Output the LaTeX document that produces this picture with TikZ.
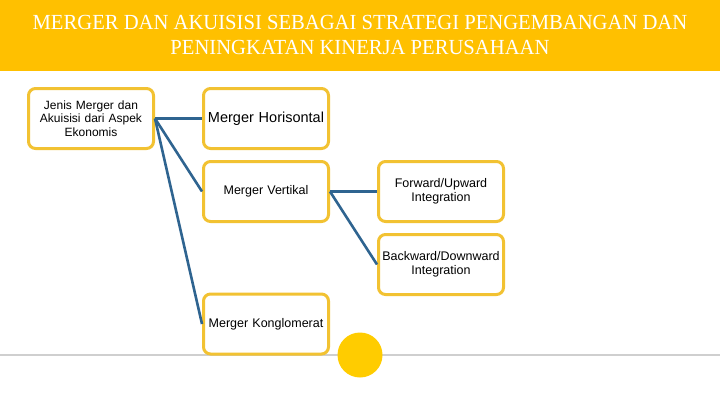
\documentclass[tikz,border=0pt]{standalone}
\usepackage{fontspec}
\setmainfont{Liberation Sans}
\newfontfamily\titlefont[FakeStretch=0.96]{Liberation Serif}
\usepackage{xcolor}
\definecolor{BandGold}{HTML}{FFC000}
\definecolor{BoxGold}{HTML}{F2C232}
\definecolor{LinkBlue}{HTML}{2F6490}
\definecolor{DotGold}{HTML}{FFCC00}
\definecolor{RuleGrey}{HTML}{CFCFCF}
\usepackage{tikz}
\usetikzlibrary{positioning}
\tikzset{
  mbox/.style={draw=BoxGold,line width=3pt,fill=white,rounded corners=7pt,align=center,inner sep=3pt,font=\fontsize{12.5}{13.5}\selectfont,minimum width=125pt,minimum height=60pt,text width=119pt},
  mlink/.style={draw=LinkBlue,line width=2.6pt}
}
\begin{document}
\begin{tikzpicture}[x=1pt,y=-1pt,node distance=10pt and 47pt]
  \useasboundingbox (0,0) rectangle (720,405);
  % header band
  \fill[BandGold] (0,0) rectangle (720,71);
  \node[text=white,font=\titlefont\fontsize{21.5}{25}\selectfont,align=center] (title) at (360,35)
    {MERGER DAN AKUISISI SEBAGAI STRATEGI PENGEMBANGAN DAN\\PENINGKATAN KINERJA PERUSAHAAN};
  % bottom rule and dot
  \draw[RuleGrey,line width=1.2pt] (0,355) -- (720,355);
  \fill[DotGold] (360,355) circle (22.5);

  \node[mbox,font=\fontsize{12}{13.5}\selectfont] (root) at (91,118.5) {Jenis Merger dan\\Akuisisi dari Aspek\\Ekonomis};
  \node[mbox,right=of root,font=\fontsize{14.5}{16}\selectfont] (horis) {\raisebox{-1.5pt}{Merger Horisontal}};
  \node[mbox,below=of horis] (vert) {Merger Vertikal};
  \node[mbox,right=of vert] (fwd) {Forward/Upward\\Integration};
  \node[mbox,below=of fwd] (bwd) {Backward/Downward\\Integration};
  \node[mbox] (konglo) at (266,324) {Merger Konglomerat};

  \draw[mlink] (root.east) -- (horis.west);
  \draw[mlink] (root.east) -- (vert.west);
  \draw[mlink] (root.east) -- (konglo.west);
  \draw[mlink] (vert.east) -- (fwd.west);
  \draw[mlink] (vert.east) -- (bwd.west);
\end{tikzpicture}
\end{document}
